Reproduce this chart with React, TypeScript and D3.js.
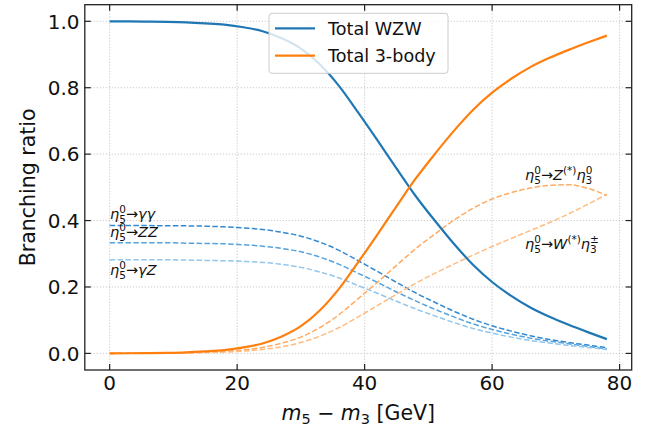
import React from "react";
import * as d3 from "d3";

const mass = [0, 3, 6, 9, 12, 15, 18, 21, 24, 27, 30, 33, 36, 39, 42, 45, 48, 51, 54, 57, 60, 63, 66, 69, 72, 75, 78];
const totalWZW = [1.0, 0.9996, 0.9992, 0.9985, 0.997, 0.994, 0.99, 0.982, 0.97, 0.949, 0.918, 0.87, 0.805, 0.725, 0.642, 0.557, 0.474, 0.4, 0.33, 0.267, 0.215, 0.173, 0.138, 0.11, 0.086, 0.064, 0.043];
const total3body = [0.0, 0.0004, 0.0008, 0.0015, 0.003, 0.006, 0.01, 0.018, 0.03, 0.051, 0.082, 0.13, 0.195, 0.275, 0.358, 0.443, 0.526, 0.6, 0.67, 0.733, 0.785, 0.827, 0.862, 0.89, 0.914, 0.936, 0.957];
const gammaGamma = [0.385, 0.385, 0.385, 0.384, 0.384, 0.383, 0.381, 0.378, 0.373, 0.365, 0.353, 0.335, 0.31, 0.279, 0.247, 0.214, 0.182, 0.154, 0.127, 0.103, 0.083, 0.067, 0.053, 0.042, 0.033, 0.025, 0.017];
const zz = [0.333, 0.333, 0.333, 0.333, 0.332, 0.331, 0.33, 0.327, 0.323, 0.316, 0.306, 0.29, 0.268, 0.241, 0.214, 0.185, 0.158, 0.133, 0.11, 0.089, 0.072, 0.058, 0.046, 0.037, 0.029, 0.021, 0.014];
const gammaZ = [0.282, 0.282, 0.282, 0.282, 0.281, 0.28, 0.279, 0.277, 0.274, 0.268, 0.259, 0.245, 0.227, 0.204, 0.181, 0.157, 0.134, 0.113, 0.093, 0.075, 0.061, 0.049, 0.039, 0.031, 0.024, 0.018, 0.012];
const zEta3 = [0.0, 0.0002, 0.0005, 0.0009, 0.0018, 0.0036, 0.006, 0.011, 0.018, 0.031, 0.049, 0.078, 0.117, 0.165, 0.214, 0.265, 0.315, 0.359, 0.401, 0.437, 0.465, 0.484, 0.498, 0.506, 0.508, 0.497, 0.476];
const wEta3 = [0.0, 0.0002, 0.0003, 0.0006, 0.0012, 0.0024, 0.004, 0.007, 0.012, 0.02, 0.033, 0.052, 0.078, 0.11, 0.144, 0.178, 0.211, 0.241, 0.269, 0.296, 0.322, 0.346, 0.37, 0.394, 0.42, 0.449, 0.479];

const xTicks = [0, 20, 40, 60, 80];
const yTicks = [0.0, 0.2, 0.4, 0.6, 0.8, 1.0];
const legendLabels = ["Total WZW", "Total 3-body"];

const FONT = "DejaVu Sans, sans-serif";

export default function App() {
  const left = 84.8, right = 631.7, top = 4.7, bottom = 370;
  const x = d3.scaleLinear().domain([-3.9, 81.9]).range([left, right]);
  const y = d3.scaleLinear().domain([-0.05, 1.05]).range([bottom, top]);
  const line = (vals: number[]) =>
    d3.line<number>().x((_, i) => x(mass[i])).y((v) => y(v)).curve(d3.curveMonotoneX)(vals) || "";

  const series = [
    { vals: gammaGamma, color: "#3389d2", dash: "5.5,2.4", w: 1.5 },
    { vals: zz, color: "#55a3de", dash: "5.5,2.4", w: 1.5 },
    { vals: gammaZ, color: "#92c6ec", dash: "5.5,2.4", w: 1.5 },
    { vals: zEta3, color: "#ffab62", dash: "5.5,2.4", w: 1.5 },
    { vals: wEta3, color: "#ffbb80", dash: "5.5,2.4", w: 1.5 },
    { vals: totalWZW, color: "#1f77b4", dash: undefined, w: 2.2 },
    { vals: total3body, color: "#ff7f0e", dash: undefined, w: 2.2 },
  ];

  const tickLen = 6;
  const fs = 14.5;
  const sfs = 10.5;

  const etaLabel = (xx: number, yy: number, sub: string, sup: string, rest: React.ReactNode, pre?: React.ReactNode) => (
    <text x={xx} y={yy} fontFamily={FONT} fontSize={fs} fill="#111">
      {pre}
      <tspan fontStyle="italic">η</tspan>
      <tspan fontSize={sfs} dy={-6}>{sup}</tspan>
      <tspan fontSize={sfs} dx={-6.7} dy={10}>{sub}</tspan>
      {rest}
    </text>
  );

  return (
    <svg width={651} height={427} style={{ position: "absolute", left: 0, top: 0 }}>
      <rect x={0} y={0} width={651} height={427} fill="#fff" />
      {/* grid */}
      <g stroke="#b8b8b8" strokeWidth={0.9} strokeDasharray="1,2">
        {xTicks.map((t) => (
          <line key={"gx" + t} x1={x(t)} x2={x(t)} y1={top} y2={bottom} />
        ))}
        {yTicks.map((t) => (
          <line key={"gy" + t} x1={left} x2={right} y1={y(t)} y2={y(t)} />
        ))}
      </g>
      {/* curves */}
      {series.map((s, i) => (
        <path key={i} d={line(s.vals)} fill="none" stroke={s.color} strokeWidth={s.w} strokeDasharray={s.dash} />
      ))}
      {/* annotations */}
      {etaLabel(110, 219, "5", "0", <><tspan dy={-4}>→</tspan><tspan fontStyle="italic">γγ</tspan></>)}
      {etaLabel(110, 237, "5", "0", <><tspan dy={-4}>→</tspan><tspan fontStyle="italic">ZZ</tspan></>)}
      {etaLabel(110, 275, "5", "0", <><tspan dy={-4}>→</tspan><tspan fontStyle="italic">γZ</tspan></>)}
      {etaLabel(525, 180, "5", "0",
        <>
          <tspan dy={-4}>→</tspan>
          <tspan fontStyle="italic">Z</tspan>
          <tspan fontSize={sfs} dy={-6}>(*)</tspan>
          <tspan fontStyle="italic" dy={6}>η</tspan>
          <tspan fontSize={sfs} dy={-6}>0</tspan>
          <tspan fontSize={sfs} dx={-6.7} dy={10}>3</tspan>
        </>
      )}
      {etaLabel(525, 249, "5", "0",
        <>
          <tspan dy={-4}>→</tspan>
          <tspan fontStyle="italic">W</tspan>
          <tspan fontSize={sfs} dy={-6}>(*)</tspan>
          <tspan fontStyle="italic" dy={6}>η</tspan>
          <tspan fontSize={sfs} dy={-6}>±</tspan>
          <tspan fontSize={sfs} dx={-8.8} dy={10}>3</tspan>
        </>
      )}
      {/* legend */}
      <g>
        <rect x={269} y={13.3} width={179} height={60} rx={3} fill="#fff" fillOpacity={0.8} stroke="#cccccc" strokeWidth={1} />
        {legendLabels.map((lab, i) => (
          <g key={lab}>
            <line x1={275} x2={315} y1={28.3 + i * 27.4} y2={28.3 + i * 27.4} stroke={i === 0 ? "#1f77b4" : "#ff7f0e"} strokeWidth={2.2} />
            <text x={328} y={28.3 + i * 27.4} dy="0.36em" fontFamily={FONT} fontSize={17.6} fill="#111">{lab}</text>
          </g>
        ))}
      </g>
      {/* axes frame */}
      <rect x={left} y={top} width={right - left} height={bottom - top} fill="none" stroke="#222" strokeWidth={1.3} />
      {/* ticks */}
      <g stroke="#222" strokeWidth={1.2}>
        {xTicks.map((t) => (
          <g key={"tx" + t}>
            <line x1={x(t)} x2={x(t)} y1={bottom} y2={bottom - tickLen} />
            <line x1={x(t)} x2={x(t)} y1={top} y2={top + tickLen} />
          </g>
        ))}
        {yTicks.map((t) => (
          <g key={"ty" + t}>
            <line x1={left} x2={left + tickLen} y1={y(t)} y2={y(t)} />
            <line x1={right} x2={right - tickLen} y1={y(t)} y2={y(t)} />
          </g>
        ))}
      </g>
      {/* tick labels */}
      {xTicks.map((t) => (
        <text key={"lx" + t} x={x(t)} y={390} textAnchor="middle" fontFamily={FONT} fontSize={20} fill="#111">{t}</text>
      ))}
      {yTicks.map((t) => (
        <text key={"ly" + t} x={79.5} y={y(t)} dy="0.36em" textAnchor="end" fontFamily={FONT} fontSize={20} fill="#111">{t.toFixed(1)}</text>
      ))}
      {/* axis labels */}
      <text transform={`translate(35,${(top + bottom) / 2}) rotate(-90)`} textAnchor="middle" fontFamily={FONT} fontSize={20.5} fill="#111">Branching ratio</text>
      <text x={(left + right) / 2} y={420} textAnchor="middle" fontFamily={FONT} fontSize={20.5} fill="#111">
        <tspan fontStyle="italic">m</tspan>
        <tspan fontSize={14.5} dy={4}>5</tspan>
        <tspan dy={-4}> − </tspan>
        <tspan fontStyle="italic">m</tspan>
        <tspan fontSize={14.5} dy={4}>3</tspan>
        <tspan dy={-4}> [GeV]</tspan>
      </text>
    </svg>
  );
}
